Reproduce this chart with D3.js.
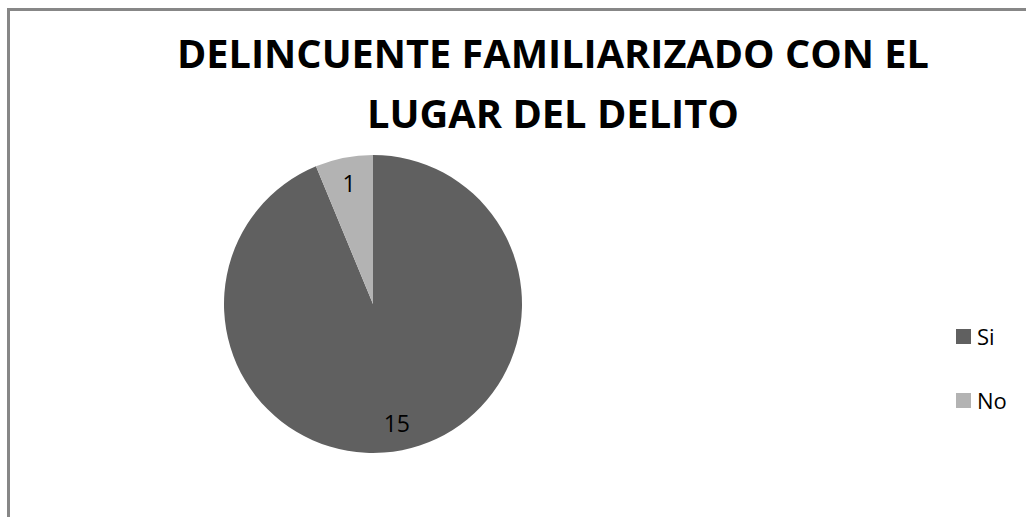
<!DOCTYPE html>
<html>
<head>
<meta charset="utf-8">
<script src="https://cdn.jsdelivr.net/npm/d3@7"></script>
<style>
    body { margin: 0; background: #fff; }
    svg { display: block; }
</style>
</head>
<body>
<svg id="chart" width="1026" height="517"></svg>
<script>
const categories = ["Si", "No"];
const values = [15, 1];
const titleLines = ["DELINCUENTE FAMILIARIZADO CON EL", "LUGAR DEL DELITO"];
const colors = ["#606060", "#b3b3b3"];

const buildPie = (svg_name) => {
    let chart = d3.select(svg_name);

    // outer frame of the chart area (runs off the right and bottom edge)
    chart.append("rect")
        .attr("x", 8.5)
        .attr("y", 9.5)
        .attr("width", 1040)
        .attr("height", 530)
        .attr("fill", "none")
        .attr("stroke", "#878787")
        .attr("stroke-width", 3);

    // title, two lines
    let titleWidths = [752, 372];
    chart.selectAll(".title")
        .data(titleLines)
        .enter().append("text")
        .attr("class", "title")
        .attr("x", 553)
        .attr("y", (d, i) => 68 + i * 60)
        .attr("text-anchor", "middle")
        .attr("textLength", (d, i) => titleWidths[i])
        .attr("lengthAdjust", "spacingAndGlyphs")
        .style("font-family", "'Open Sans', sans-serif")
        .style("font-weight", "bold")
        .style("font-size", "39px")
        .style("fill", "#000")
        .text(d => d);

    let data = categories.map((c, i) => ({ name: c, value: values[i] }));
    let color = d3.scaleOrdinal().domain(categories).range(colors);
    let pie = d3.pie().sort(null).value(d => d.value);
    let radius = 149;
    let arc = d3.arc().innerRadius(0).outerRadius(radius);
    let labelArc = d3.arc().innerRadius(radius * 0.82).outerRadius(radius * 0.82);

    let g = chart.append("g").attr("transform", "translate(373,304)");
    let arcs = pie(data);

    g.selectAll("path")
        .data(arcs)
        .enter().append("path")
        .attr("d", arc)
        .attr("fill", d => color(d.data.name));

    g.selectAll(".label")
        .data(arcs)
        .enter().append("text")
        .attr("class", "label")
        .attr("transform", d => "translate(" + labelArc.centroid(d) + ")")
        .attr("text-anchor", "middle")
        .attr("dy", "0.36em")
        .style("font-family", "'Open Sans', sans-serif")
        .style("font-size", "23px")
        .style("fill", "#000")
        .text(d => d.data.value);

    // legend
    let legend = chart.append("g").attr("transform", "translate(956,329)");
    let item = legend.selectAll(".item")
        .data(categories)
        .enter().append("g")
        .attr("class", "item")
        .attr("transform", (d, i) => "translate(0," + (i * 64) + ")");
    item.append("rect")
        .attr("width", 15)
        .attr("height", 15)
        .attr("fill", d => color(d));
    item.append("text")
        .attr("x", 21)
        .attr("y", 8)
        .attr("dy", "0.36em")
        .style("font-family", "'Open Sans', sans-serif")
        .style("font-size", "22px")
        .style("fill", "#000")
        .text(d => d);
}

buildPie("#chart");
</script>
</body>
</html>
